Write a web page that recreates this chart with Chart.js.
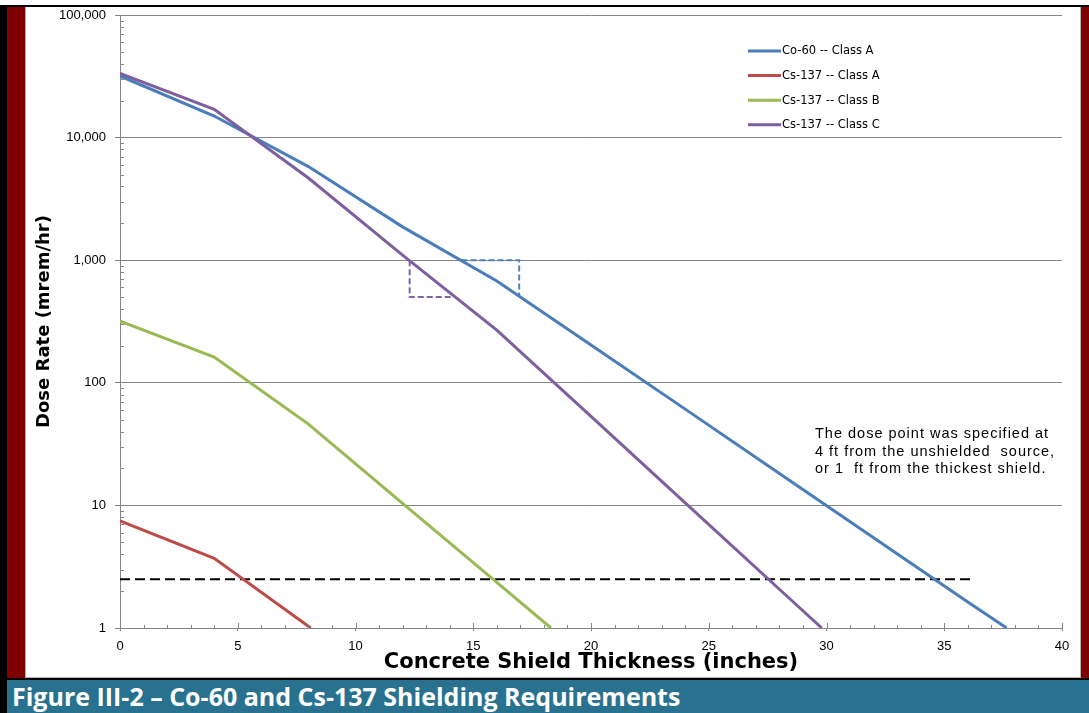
<!DOCTYPE html>
<html>
<head>
<meta charset="utf-8">
<script src="https://cdn.jsdelivr.net/npm/chart.js@4.4.0/dist/chart.umd.min.js"></script>
<style>
html,body{margin:0;padding:0;background:#fff;width:1089px;height:713px;overflow:hidden;position:relative}
#topline{position:absolute;left:0;top:5px;width:1089px;height:2px;background:#000}
#panel{position:absolute;left:25px;top:7px;width:1056px;height:671px;background:#fff;border:1px solid #b4b4b4;border-top:none;box-sizing:border-box}
#leftred{position:absolute;left:7px;top:7px;width:18px;height:671px;background:#7f0000}
#rightred{position:absolute;left:1081px;top:7px;width:8px;height:673px;background:#7f0000}
#bottomline{position:absolute;left:0;top:678px;width:1089px;height:2px;background:#000}
#caption{position:absolute;left:0;top:680px;width:1089px;height:33px;background:#29728f;color:#fff;font-family:"Open Sans",sans-serif;font-weight:700;font-size:25px;line-height:33px;padding-left:12px;box-sizing:border-box;white-space:nowrap}
#leftblack{position:absolute;left:0;top:5px;width:7px;height:708px;background:#000}
canvas{position:absolute;left:0;top:0}
</style>
</head>
<body>
<div id="topline"></div>
<div id="panel"></div>
<div id="leftred"></div>
<div id="rightred"></div>
<div id="bottomline"></div>
<div id="caption">Figure III-2 – Co-60 and Cs-137 Shielding Requirements</div>
<div id="leftblack"></div>
<canvas id="c" width="1089" height="713"></canvas>
<script>
// ---- data ----
const seriesNames = ['Co-60 -- Class A', 'Cs-137 -- Class A', 'Cs-137 -- Class B', 'Cs-137 -- Class C'];

const co60A_x = [0, 4, 8, 12, 16, 20, 24, 28, 32, 36, 37.65];
const co60A_y = [31800, 15000, 5800, 1870, 676, 203, 61, 18.2, 5.45, 1.63, 1];

const cs137A_x = [0, 4, 8.1];
const cs137A_y = [7.46, 3.7, 1];

const cs137B_x = [0, 4, 8, 12, 16, 18.3];
const cs137B_y = [319, 162, 46, 10.4, 2.36, 1];

const cs137C_x = [0, 4, 8, 12, 16, 20, 24, 28, 29.8];
const cs137C_y = [33400, 17000, 4680, 1100, 269, 53.2, 10.5, 2.07, 1];

const limitX = [0, 36.2];
const limitY = [2.5, 2.5];

const halfC_x = [12.3, 12.3, 14.1];
const halfC_y = [1000, 500, 500];

const halfCo_x = [14.5, 16.95, 16.95];
const halfCo_y = [1000, 1000, 520];

const xTicks = [0, 5, 10, 15, 20, 25, 30, 35, 40];
const yTicks = [1, 10, 100, 1000, 10000, 100000];

const noteLines = ['The dose point was specified at', '4 ft from the unshielded  source,', 'or 1  ft from the thickest shield.'];

const colors = ['#4a7ebb', '#be4b48', '#98b954', '#7d5fa0'];

// ---- helpers ----
const pts = (xs, ys) => xs.map((x, i) => ({x: x, y: ys[i]}));

const mainSets = [
  {label: seriesNames[0], data: pts(co60A_x, co60A_y), borderColor: colors[0], order: 3},
  {label: seriesNames[1], data: pts(cs137A_x, cs137A_y), borderColor: colors[1], order: 2},
  {label: seriesNames[2], data: pts(cs137B_x, cs137B_y), borderColor: colors[2], order: 2},
  {label: seriesNames[3], data: pts(cs137C_x, cs137C_y), borderColor: colors[3], order: 1}
].map(d => Object.assign(d, {borderWidth: 3, pointRadius: 0, tension: 0, fill: false}));

const extraSets = [
  {label: 'limit', data: pts(limitX, limitY), borderColor: '#000', borderWidth: 2, borderDash: [10, 5], order: 5},
  {label: 'hvlC', data: pts(halfC_x, halfC_y), borderColor: '#8064a2', borderWidth: 2, borderDash: [6, 3], order: 6},
  {label: 'hvlCo', data: pts(halfCo_x, halfCo_y), borderColor: '#4f81bd', borderWidth: 2, borderDash: [6, 3], order: 6}
].map(d => Object.assign(d, {pointRadius: 0, tension: 0, fill: false, isExtra: true}));

const GRAY = '#868686';

const minorTicks = {
  id: 'minorTicks',
  afterDraw(chart) {
    const ctx = chart.ctx, xs = chart.scales.x, ys = chart.scales.y, ca = chart.chartArea;
    ctx.save();
    ctx.strokeStyle = GRAY;
    ctx.lineWidth = 1;
    ctx.beginPath();
    for (let d = 1; d < 100000; d *= 10) {
      for (let m = 2; m <= 9; m++) {
        const y = Math.round(ys.getPixelForValue(m * d)) + 0.5;
        ctx.moveTo(ca.left, y); ctx.lineTo(ca.left + 4, y);
      }
    }
    for (let i = 1; i <= 40; i++) {
      const x = Math.round(xs.getPixelForValue(i)) + 0.5;
      const len = (i % 5 === 0) ? 5 : 3;
      ctx.moveTo(x, ca.bottom); ctx.lineTo(x, ca.bottom - len);
    }
    ctx.stroke();
    ctx.restore();
  }
};

const customLegend = {
  id: 'customLegend',
  afterDraw(chart) {
    const ctx = chart.ctx, ca = chart.chartArea;
    const x0 = ca.left + 628, y0 = ca.top + 36, gap = 24.6;
    ctx.save();
    ctx.font = '11.5px "DejaVu Sans"';
    ctx.textBaseline = 'middle';
    ctx.textAlign = 'left';
    chart.data.datasets.forEach((ds, i) => {
      if (ds.isExtra) return;
      const y = y0 + i * gap;
      ctx.strokeStyle = ds.borderColor;
      ctx.lineWidth = 3;
      ctx.beginPath(); ctx.moveTo(x0, y); ctx.lineTo(x0 + 33, y); ctx.stroke();
      ctx.fillStyle = '#000';
      ctx.fillText(ds.label, x0 + 34, y + 0.5);
    });
    ctx.restore();
  }
};

const note = {
  id: 'note',
  afterDraw(chart) {
    const ctx = chart.ctx, ca = chart.chartArea;
    ctx.save();
    ctx.font = '14.5px "Liberation Sans"';
    try { ctx.letterSpacing = '1px'; } catch (e) {}
    ctx.fillStyle = '#000';
    ctx.textBaseline = 'middle';
    ctx.textAlign = 'left';
    noteLines.forEach((t, i) => ctx.fillText(t, ca.left + 695, ca.top + 419 + i * 17.5));
    ctx.restore();
  }
};

new Chart(document.getElementById('c'), {
  type: 'line',
  data: {datasets: mainSets.concat(extraSets)},
  options: {
    responsive: false,
    animation: false,
    devicePixelRatio: 1,
    layout: {padding: {left: 0, top: 15, right: 27, bottom: 33}},
    plugins: {legend: {display: false}, tooltip: {enabled: false}},
    scales: {
      x: {
        type: 'linear', min: 0, max: 40,
        afterBuildTicks(s) { s.ticks = xTicks.map(v => ({value: v})); },
        afterFit(s) { s.height = 52; },
        ticks: {autoSkip: false, maxRotation: 0, padding: 8, color: '#000', font: {family: 'Liberation Sans', size: 13}},
        grid: {drawOnChartArea: false, color: GRAY, tickLength: 3},
        border: {color: GRAY},
        title: {display: true, text: 'Concrete Shield Thickness (inches)', color: '#000',
                font: {family: 'DejaVu Sans', size: 21, weight: 'bold'}, padding: {top: 0, bottom: 5}}
      },
      y: {
        type: 'logarithmic', min: 1, max: 100000,
        afterBuildTicks(s) { s.ticks = yTicks.map(v => ({value: v})); },
        afterFit(s) { s.width = 120; s.paddingTop = 0; s.paddingBottom = 0; },
        ticks: {autoSkip: false, padding: 9, color: '#000', font: {family: 'Liberation Sans', size: 13},
                callback: v => Number(v).toLocaleString('en-US')},
        grid: {color: GRAY, tickLength: 5},
        border: {color: GRAY},
        title: {display: true, text: 'Dose Rate (mrem/hr)', color: '#000',
                font: {family: 'DejaVu Sans', size: 18, weight: 'bold'}, padding: {top: 34, bottom: 0}}
      }
    }
  },
  plugins: [minorTicks, customLegend, note]
});
</script>
</body>
</html>
